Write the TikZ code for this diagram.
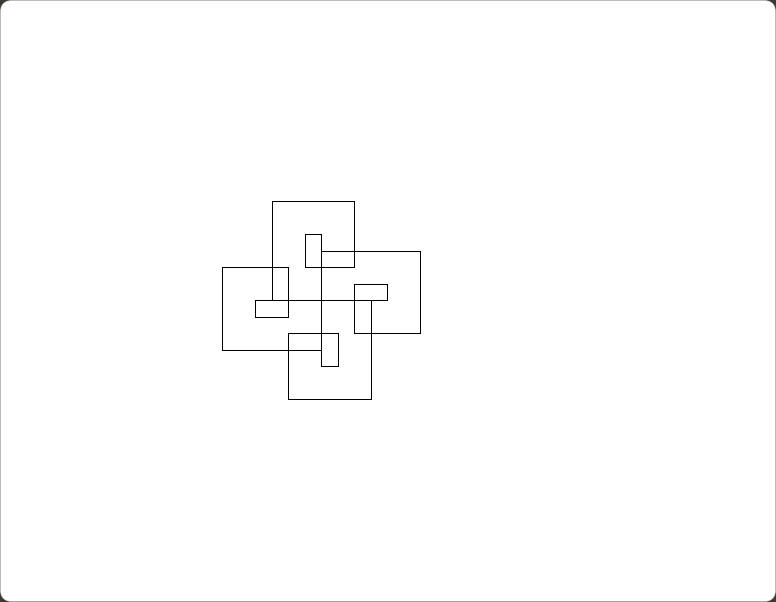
\documentclass[tikz,border=0pt]{standalone}
\usepackage{tikz}
\definecolor{framegray}{RGB}{60,56,52}

\begin{document}
\begin{tikzpicture}[x=0.5cm,y=-0.5cm,line join=miter]
  \tikzstyle{strand}=[draw=black,line width=0.7pt]
  % page: 776x602 px, one grid unit = 16.5 px
  \fill[framegray] (0,0) rectangle (47.03,36.48);
  \filldraw[fill=white,draw=gray!50,line width=0.4pt,rounded corners=0.3cm] (0.03,0.03) rectangle (47.0,36.45);
  \useasboundingbox (0,0) rectangle (47.03,36.48);
  % four identical arms, turned about the centre
  \begin{scope}[shift={(13.5,12.22)}]
    \foreach \a in {0,90,180,270}
      \draw[strand,rotate around={\a:(6,6)}]
        (3,6) -- (3,0) -- (8,0) -- (8,4) -- (5,4) -- (5,2) -- (6,2) -- (6,10);
  \end{scope}
\end{tikzpicture}
\end{document}
